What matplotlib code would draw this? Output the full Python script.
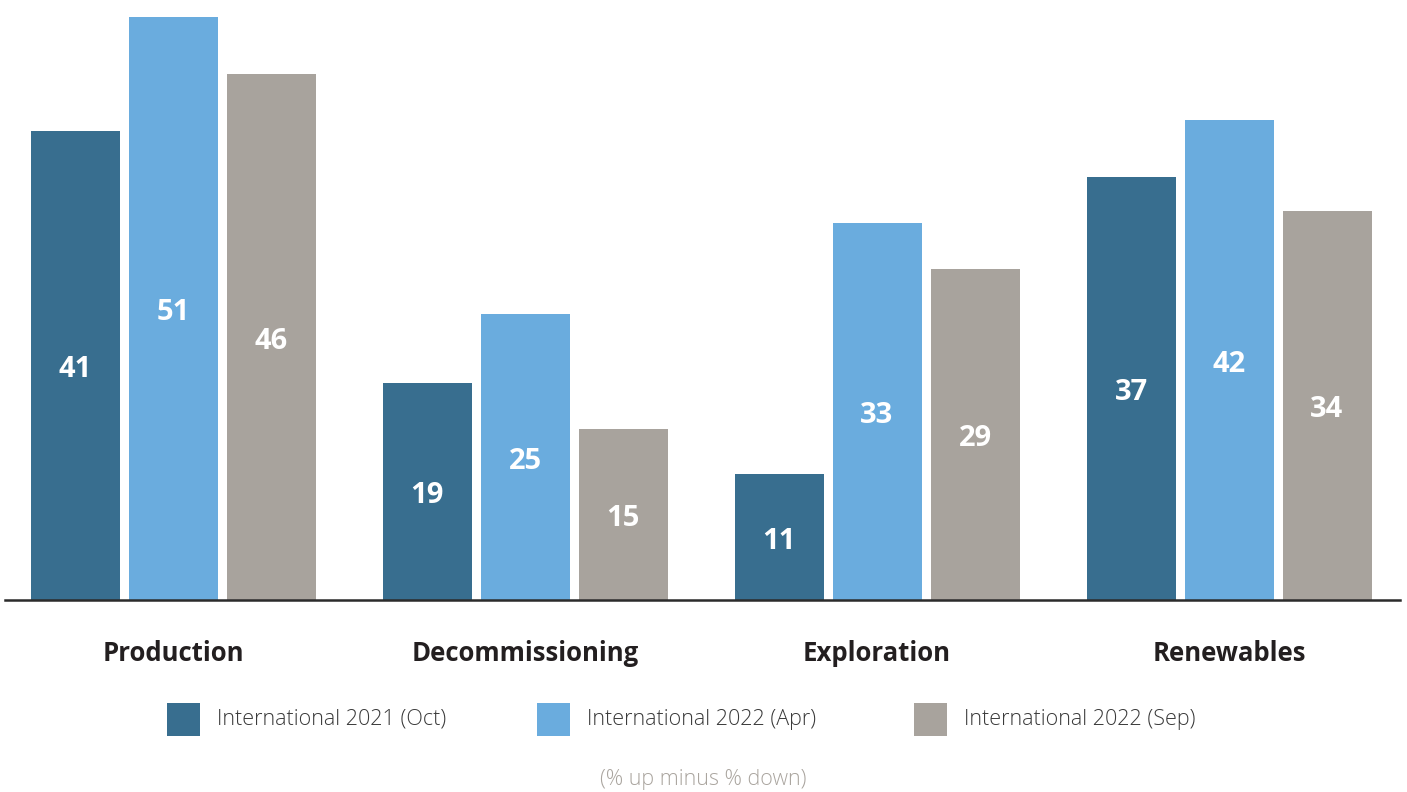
import matplotlib.pyplot as plt
import numpy as np
from matplotlib.patches import Rectangle

categories = ['Production', 'Decommissioning', 'Exploration', 'Renewables']
series_names = ['International 2021 (Oct)', 'International 2022 (Apr)', 'International 2022 (Sep)']
oct_2021 = [41, 19, 11, 37]
apr_2022 = [51, 25, 33, 42]
sep_2022 = [46, 15, 29, 34]

colors = ['#386E8F', '#6AACDE', '#A8A39D']
font = ['Open Sans', 'DejaVu Sans']

W, H = 1407, 792
fig = plt.figure(figsize=(W / 100, H / 100), dpi=100)
ax = fig.add_axes([5 / W, 1 - 600 / H, 1395 / W, 600 / H])

x = np.arange(len(categories))
pitch = 98 / 352
width = 89 / 352

for i, (vals, color) in enumerate(zip([oct_2021, apr_2022, sep_2022], colors)):
    pos = x + (i - 1) * pitch
    bars = ax.bar(pos, vals, width=width, color=color, zorder=2)
    for b, v in zip(bars, vals):
        ax.annotate(str(v), (b.get_x() + b.get_width() / 2, v / 2), xytext=(0, -3),
                    textcoords='offset points', ha='center', va='center',
                    color='white', fontsize=21, fontweight='bold', family=font)

ax.set_xlim(-168 / 352, 3 + 171 / 352)
ax.set_ylim(0, 600 / 11.43)
for s in ['top', 'right', 'left']:
    ax.spines[s].set_visible(False)
ax.spines['bottom'].set_color('#2b2b2b')
ax.spines['bottom'].set_linewidth(1.8)
ax.spines['bottom'].set_zorder(3)
ax.set_yticks([])
ax.set_xticks(x)
ax.set_xticklabels(categories, fontsize=18.5, fontweight='bold', family=font, color='#231f20')
ax.tick_params(axis='x', length=0, pad=28.5)

# legend drawn by hand: square swatch followed by its label
legend_x = [167, 537, 914]
legend_y = 719
for lx, name, color in zip(legend_x, series_names, colors):
    fig.add_artist(Rectangle((lx / W, 1 - (legend_y + 16.5) / H), 33 / W, 33 / H,
                             transform=fig.transFigure, facecolor=color, edgecolor='none'))
    fig.text((lx + 50) / W, 1 - legend_y / H, name, ha='left', va='center',
             fontsize=15.5, color='#3a3a3a', family=font, fontweight='light')

fig.text(0.5, 1 - 780 / H, '(% up minus % down)', ha='center', va='center',
         fontsize=15.5, color='#aaa59f', family=font, fontweight='light')

fig.savefig('out.png', dpi=100)
